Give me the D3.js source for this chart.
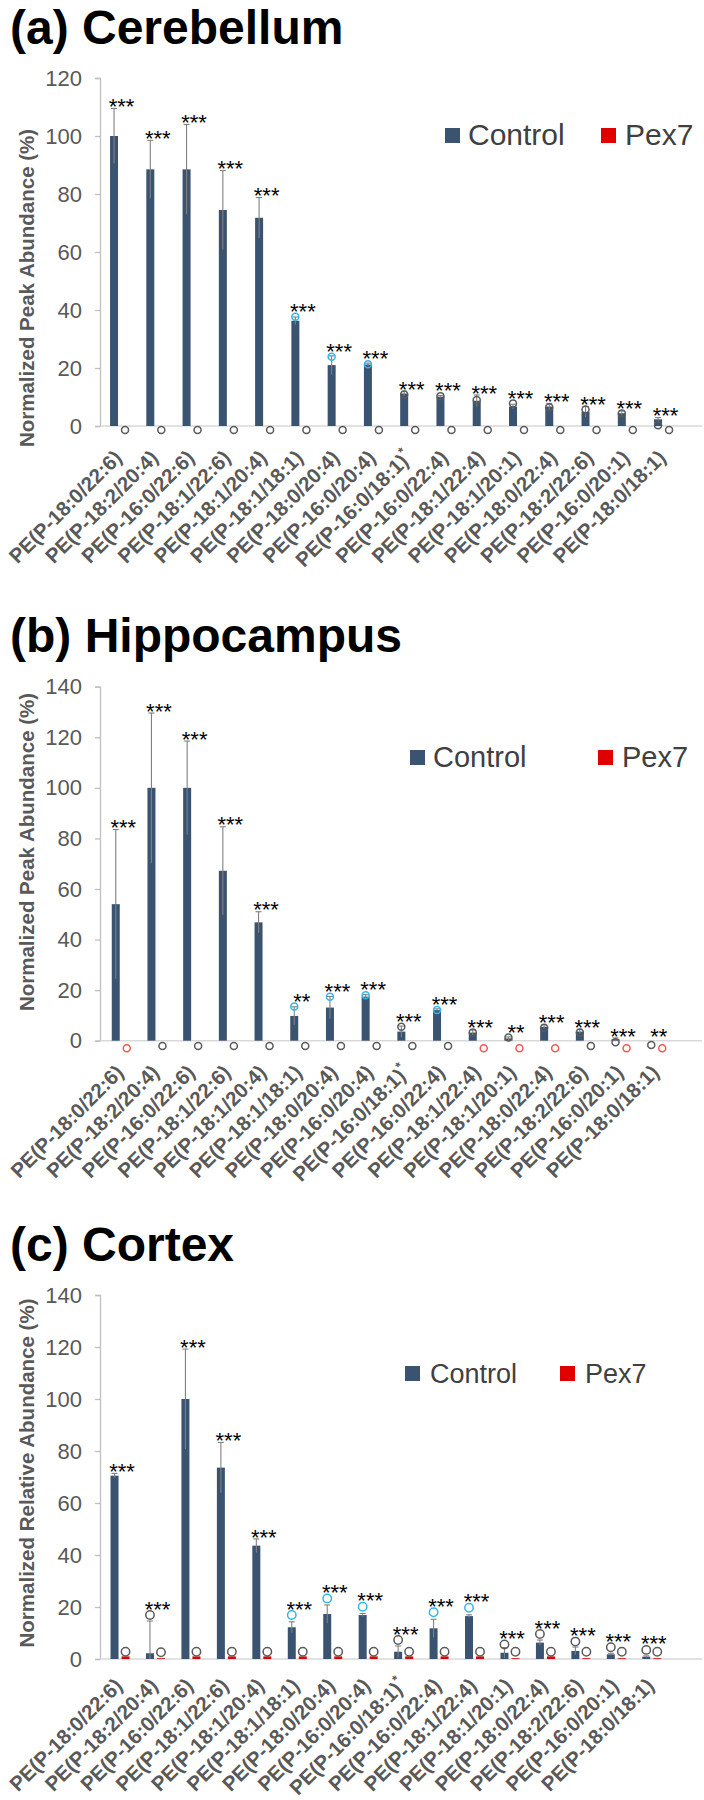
<!DOCTYPE html>
<html><head><meta charset="utf-8">
<script src="https://cdn.jsdelivr.net/npm/d3@7"></script>
<style>
body{margin:0;background:#fff}
svg{display:block}
text{font-family:"Liberation Sans",Arial,sans-serif}
</style>
</head><body>
<svg id="chart" width="704" height="1800"></svg>
<script>
// ---------- DATA ----------
const categories = ["PE(P-18:0/22:6)","PE(P-18:2/20:4)","PE(P-16:0/22:6)","PE(P-18:1/22:6)","PE(P-18:1/20:4)","PE(P-18:1/18:1)","PE(P-18:0/20:4)","PE(P-16:0/20:4)","PE(P-16:0/18:1)*","PE(P-16:0/22:4)","PE(P-18:1/22:4)","PE(P-18:1/20:1)","PE(P-18:0/22:4)","PE(P-18:2/22:6)","PE(P-16:0/20:1)","PE(P-18:0/18:1)"];
const seriesNames = ["Control","Pex7"];

const cerebTicks = [0,20,40,60,80,100,120];
const cerebControl = [100,88.5,88.5,74.5,71.8,36.3,21.0,21.2,11.2,10.1,8.7,6.7,6.7,4.9,4.4,2.3];
const cerebSD = [9.5,10,15.5,13.6,7,1.3,3.2,0.5,0.8,0.4,2,0.8,1.1,1.8,0.8,0.6];
const cerebPoint = [null,null,null,null,null,37.7,23.9,21.3,10.9,10.3,9.0,7.8,6.5,5.7,4.3,0.3];
const cerebPointColor = ["g","g","g","g","g","b","b","b","g","g","g","g","g","g","g","g"];
const cerebPex = [0,0,0,0,0,0,0,0,0,0,0,0,0,0,0,0];
const cerebPexPoint = [-1.4,-1.4,-1.4,-1.4,-1.4,-1.4,-1.4,-1.4,-1.4,-1.4,-1.4,-1.4,-1.4,-1.4,-1.4,-1.4];
const cerebPexPointColor = ["g","g","g","g","g","g","g","g","g","g","g","g","g","g","g","g"];
const cerebStars = ["***","***","***","***","***","***","***","***","***","***","***","***","***","***","***","***"];

const hippoTicks = [0,20,40,60,80,100,120,140];
const hippoControl = [54,100,100,67.2,46.8,9.8,13.1,17.4,3.6,12.1,3.2,0.9,5.5,3.6,0.6,0];
const hippoSD = [29.5,29.6,18.5,17.4,4.2,3.6,4.4,0.8,2.2,0.5,1.0,0.6,0.8,0.9,0.5,0];
const hippoPoint = [null,null,null,null,null,13.5,17.4,18.0,5.5,12.1,3.2,1.3,5.1,3.2,-0.6,-1.7];
const hippoPointColor = ["g","g","g","g","g","b","b","b","g","b","g","g","g","g","g","g"];
const hippoPex = [0,0,0,0,0,0,0,0,0,0,0,0,0,0,0,0];
const hippoPexPoint = [-3.0,-2.1,-2.1,-2.1,-2.1,-2.1,-2.1,-2.1,-2.1,-2.1,-3.0,-3.0,-3.0,-2.1,-3.0,-3.0];
const hippoPexPointColor = ["r","g","g","g","g","g","g","g","g","g","r","r","r","g","r","r"];
const hippoStars = ["***","***","***","***","***","**","***","***","***","***","***","**","***","***","***","**"];

const cortexTicks = [0,20,40,60,80,100,120,140];
const cortexControl = [70.5,2.2,100,73.6,43.6,12.2,17.3,16.9,2.8,11.8,16.5,2.4,6.3,3.1,1.8,0.9];
const cortexSD = [0.9,12.4,19.2,9.7,2.6,2.1,3.5,0.6,2.2,3.5,0.5,2.0,1.0,1.5,0.4,0.3];
const cortexPoint = [null,16.9,null,null,null,16.9,23.3,20.1,7.3,18.0,19.7,5.6,9.6,6.7,4.5,3.5];
const cortexPointColor = ["g","g","g","g","g","b","b","b","g","b","b","g","g","g","g","g"];
const cortexPex = [1,0.3,1,1,1,1,1,1,1,1,1,0.3,1,0.3,0.3,0.3];
const cortexPexPoint = [2.8,2.6,2.8,2.8,2.8,2.8,2.8,2.8,2.8,2.8,2.8,2.8,2.8,2.8,2.8,2.8];
const cortexPexPointColor = ["g","g","g","g","g","g","g","g","g","g","g","g","g","g","g","g"];
const cortexStars = ["***","***","***","***","***","***","***","***","***","***","***","***","***","***","***","***"];

// ---------- STYLE / LAYOUT ----------
const COLORS = {control:"#3a5371", pex:"#e00000", err:"#808080", axis:"#bfbfbf", tick:"#595959"};
const POINT = {g:"#5a5a5a", b:"#33b5ea", r:"#f55555"};

const panels = [
  {title:"(a) Cerebellum", titleY:44, yTitle:"Normalized Peak Abundance (%)", yTitleCy:288,
   ticks:cerebTicks, ypx:[426,78], xr:[101.4,681.7], r:3.5, labDy:33,
   legend:{y:145, size:30, sq:[445,601], tx:[468,625]},
   control:cerebControl, sd:cerebSD, point:cerebPoint, pointColor:cerebPointColor,
   pex:cerebPex, pexPoint:cerebPexPoint, pexPointColor:cerebPexPointColor, stars:cerebStars},
  {title:"(b) Hippocampus", titleY:652, yTitle:"Normalized Peak Abundance (%)", yTitleCy:852,
   ticks:hippoTicks, ypx:[1040.7,686.7], xr:[103.4,674.6], r:3.5, labDy:33,
   legend:{y:767, size:29, sq:[410,598], tx:[433,622]},
   control:hippoControl, sd:hippoSD, point:hippoPoint, pointColor:hippoPointColor,
   pex:hippoPex, pexPoint:hippoPexPoint, pexPointColor:hippoPexPointColor, stars:hippoStars},
  {title:"(c) Cortex", titleY:1261, yTitle:"Normalized Relative Abundance (%)", yTitleCy:1473,
   ticks:cortexTicks, ypx:[1659,1295], xr:[102.3,669.5], r:4.2, labDy:28,
   legend:{y:1383, size:27, sq:[405,560], tx:[430,585]},
   control:cortexControl, sd:cortexSD, point:cortexPoint, pointColor:cortexPointColor,
   pex:cortexPex, pexPoint:cortexPexPoint, pexPointColor:cortexPexPointColor, stars:cortexStars}
];

const svg = d3.select("#chart");
const BARW = 8, OFF = 5.5;

panels.forEach(p => {
  const g = svg.append("g");
  const x = d3.scaleBand().domain(categories).range(p.xr).paddingInner(0).paddingOuter(0);
  const y = d3.scaleLinear().domain([0, d3.max(p.ticks)]).range(p.ypx);
  const cx = c => x(c) + x.bandwidth()/2;

  // title
  g.append("text").attr("x",10).attr("y",p.titleY).attr("font-size",48).attr("font-weight","bold")
    .attr("fill","#000").text(p.title);

  // y axis
  const yAxis = d3.axisLeft(y).tickValues(p.ticks).tickSize(5).tickPadding(13).tickFormat(d3.format("d"));
  const ya = g.append("g").attr("transform","translate(100,0)").call(yAxis);
  ya.select(".domain").attr("stroke",COLORS.axis).attr("stroke-width",1.3);
  ya.selectAll(".tick line").attr("stroke",COLORS.axis).attr("stroke-width",1.3);
  ya.selectAll(".tick text").attr("fill",COLORS.tick).attr("font-size",22)
    .attr("font-family","'Liberation Sans',Arial,sans-serif");

  // y title
  g.append("text").attr("transform",`translate(34,${p.yTitleCy}) rotate(-90)`)
    .attr("text-anchor","middle").attr("font-size",20.5).attr("font-weight","bold")
    .attr("fill",COLORS.tick).text(p.yTitle);

  // x axis line
  g.append("line").attr("x1",100).attr("x2",702).attr("y1",y(0)).attr("y2",y(0))
    .attr("stroke","#d9d9d9").attr("stroke-width",1.5);

  // x labels
  const lab = g.append("g").selectAll("text").data(categories).join("text")
    .attr("transform", d => `translate(${cx(d)+3.5},${y(0)+p.labDy}) rotate(-45)`)
    .attr("text-anchor","end").attr("font-size",20.5).attr("font-weight","bold").attr("fill",COLORS.tick);
  lab.each(function(d){
    const t = d3.select(this);
    if (d.endsWith("*")) {
      t.append("tspan").text(d.slice(0,-1));
      t.append("tspan").attr("font-size",13).attr("dy",-9).text("*");
    } else t.text(d);
  });

  const idx = categories.map((c,i)=>i);

  // control bars
  g.append("g").selectAll("rect").data(idx).join("rect")
    .attr("x", i => cx(categories[i]) - OFF - BARW/2)
    .attr("width", BARW)
    .attr("y", i => y(Math.max(0,p.control[i])))
    .attr("height", i => Math.abs(y(0)-y(p.control[i])))
    .attr("fill", COLORS.control);

  // pex bars
  g.append("g").selectAll("rect").data(idx).join("rect")
    .attr("x", i => cx(categories[i]) + OFF - BARW/2)
    .attr("width", BARW)
    .attr("y", i => y(Math.max(0,p.pex[i])))
    .attr("height", i => Math.abs(y(0)-y(p.pex[i])))
    .attr("fill", COLORS.pex);

  // error bars (lower half clipped at the baseline)
  const eb = g.append("g").attr("stroke",COLORS.err).attr("stroke-width",1.1);
  idx.filter(i => p.sd[i] > 0).forEach(i => {
    const xx = cx(categories[i]) - OFF;
    const top = y(p.control[i] + p.sd[i]), bot = y(Math.max(0, p.control[i] - p.sd[i]));
    eb.append("line").attr("x1",xx).attr("x2",xx).attr("y1",top).attr("y2",bot);
    eb.append("line").attr("x1",xx-3).attr("x2",xx+3).attr("y1",top).attr("y2",top);
  });

  // control points
  g.append("g").selectAll("circle").data(idx.filter(i => p.point[i] !== null)).join("circle")
    .attr("cx", i => cx(categories[i]) - OFF)
    .attr("cy", i => y(p.point[i]))
    .attr("r", p.r).attr("fill","none")
    .attr("stroke", i => POINT[p.pointColor[i]]).attr("stroke-width",1.5);

  // pex points
  g.append("g").selectAll("circle").data(idx).join("circle")
    .attr("cx", i => cx(categories[i]) + OFF)
    .attr("cy", i => y(p.pexPoint[i]))
    .attr("r", p.r).attr("fill","none")
    .attr("stroke", i => POINT[p.pexPointColor[i]]).attr("stroke-width",1.5);

  // significance stars
  g.append("g").selectAll("text").data(idx).join("text")
    .attr("x", i => cx(categories[i]) + 2)
    .attr("y", i => {
      let top = y(p.control[i] + p.sd[i]);
      if (p.point[i] !== null) top = Math.min(top, y(p.point[i]) - p.r);
      top = Math.min(top, y(0) - 2);
      return top + 5.7;
    })
    .attr("text-anchor","middle").attr("font-size",22).attr("fill","#000")
    .text(i => p.stars[i]);

  // legend
  const L = p.legend;
  const sqs = 15;
  [COLORS.control, COLORS.pex].forEach((col,k) => {
    g.append("rect").attr("x",L.sq[k]).attr("y",L.y - 2 - sqs).attr("width",sqs).attr("height",sqs).attr("fill",col);
    g.append("text").attr("x",L.tx[k]).attr("y",L.y).attr("font-size",L.size).attr("fill","#404040").text(seriesNames[k]);
  });
});
</script>
</body></html>
